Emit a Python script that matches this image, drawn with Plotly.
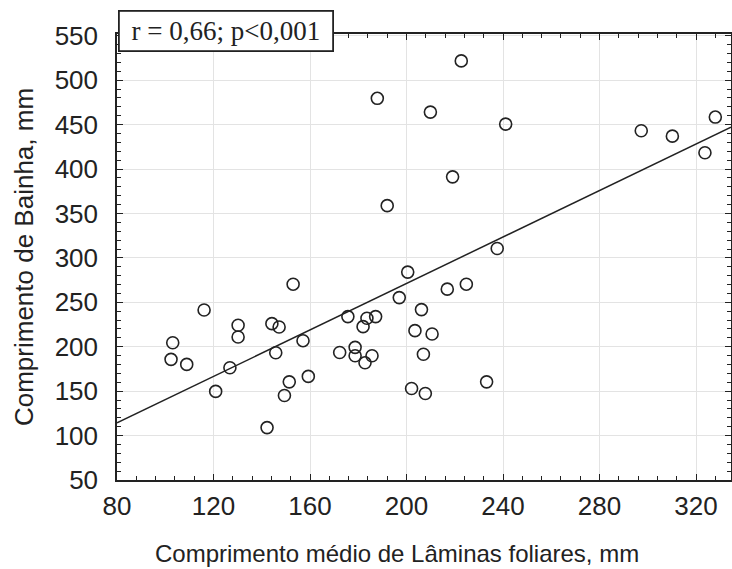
import plotly.graph_objects as go

# Data
lamina_mm = [103.1, 102.4, 108.9, 116.1, 130.2, 130.2, 126.8, 120.9, 142.2, 144.2,
             147.2, 153.0, 145.8, 157.1, 159.3, 151.4, 149.4, 172.3, 222.7, 187.9,
             209.9, 241.1, 297.3, 310.2, 328.0, 323.7, 219.1, 192.0, 237.6, 200.5,
             197.0, 216.9, 224.8, 206.2, 175.7, 183.6, 187.2, 182.0, 203.5, 210.6,
             178.7, 178.7, 185.7, 182.8, 207.0, 233.2, 202.1, 207.8]
bainha_mm = [204.5, 185.8, 180.1, 241.4, 224.2, 210.9, 176.3, 149.7, 109.0, 226.0,
             222.2, 270.4, 193.2, 206.8, 166.6, 160.5, 145.1, 193.5, 521.7, 479.6,
             464.1, 450.6, 443.1, 437.0, 458.5, 418.3, 391.2, 358.8, 310.6, 284.0,
             255.3, 264.8, 270.4, 241.8, 233.9, 232.0, 233.9, 222.6, 218.1, 214.3,
             199.3, 189.8, 189.8, 181.9, 191.6, 160.5, 153.0, 147.4]

fit_intercept = 9.6
fit_slope = 1.308

x_range = [80, 334.5]
y_range = [50, 552]
x_ticks = [80, 120, 160, 200, 240, 280, 320]
y_ticks = [50, 100, 150, 200, 250, 300, 350, 400, 450, 500, 550]

x_title = "Comprimento médio de Lâminas foliares, mm"
y_title = "Comprimento de Bainha, mm"
stat_text = "r = 0,66; p<0,001"

line_x = x_range
line_y = [fit_intercept + fit_slope * v for v in line_x]

ink = "#222222"
font_sans = "Liberation Sans, Arial, sans-serif"

fig = go.Figure()
fig.add_trace(go.Scatter(
    x=line_x, y=line_y, mode="lines",
    line=dict(color=ink, width=1.5), hoverinfo="skip", showlegend=False,
))
fig.add_trace(go.Scatter(
    x=lamina_mm, y=bainha_mm, mode="markers",
    marker=dict(symbol="circle-open", size=12, color=ink, line=dict(width=1.6, color=ink)),
    showlegend=False,
))

axis_common = dict(
    showline=True, linecolor=ink, linewidth=1.5, mirror="ticks",
    ticks="inside", ticklen=6, tickwidth=1.3, tickcolor=ink,
    showgrid=True, gridcolor="#e3e3e3", gridwidth=1.2,
    zeroline=False,
    tickfont=dict(family=font_sans, size=26, color=ink),
)

fig.update_xaxes(
    range=x_range, tickmode="array", tickvals=x_ticks,
    minor=dict(ticks="inside", dtick=8, tick0=80, ticklen=4, tickwidth=1.2, tickcolor=ink, showgrid=False),
    ticklabelstandoff=2,
    **axis_common,
)
fig.update_yaxes(
    range=y_range, tickmode="array", tickvals=y_ticks,
    minor=dict(ticks="inside", dtick=10, tick0=50, ticklen=4, tickwidth=1.2, tickcolor=ink, showgrid=False),
    ticklabelstandoff=12,
    title=dict(text=y_title, font=dict(family=font_sans, size=26, color=ink), standoff=14),
    **axis_common,
)

# x-axis title (placed slightly left of the plot centre, as in the reference)
fig.add_annotation(
    xref="paper", yref="paper", x=0.456, y=-0.1637, xanchor="center", yanchor="middle",
    text=x_title, showarrow=False,
    font=dict(family=font_sans, size=24, color=ink),
)

fig.add_annotation(
    xref="paper", yref="paper", x=0.0016, y=1.0538, xanchor="left", yanchor="top",
    text=stat_text, showarrow=False,
    font=dict(family="Liberation Serif, Times New Roman, serif", size=27, color=ink),
    width=206, height=32, align="center", valign="middle",
    bgcolor="white", bordercolor=ink, borderwidth=1.8, borderpad=3,
)

fig.update_layout(
    width=732, height=569,
    margin=dict(l=117, r=1, t=34, b=89, autoexpand=False),
    paper_bgcolor="white", plot_bgcolor="white",
)

fig.write_html("out.html")
